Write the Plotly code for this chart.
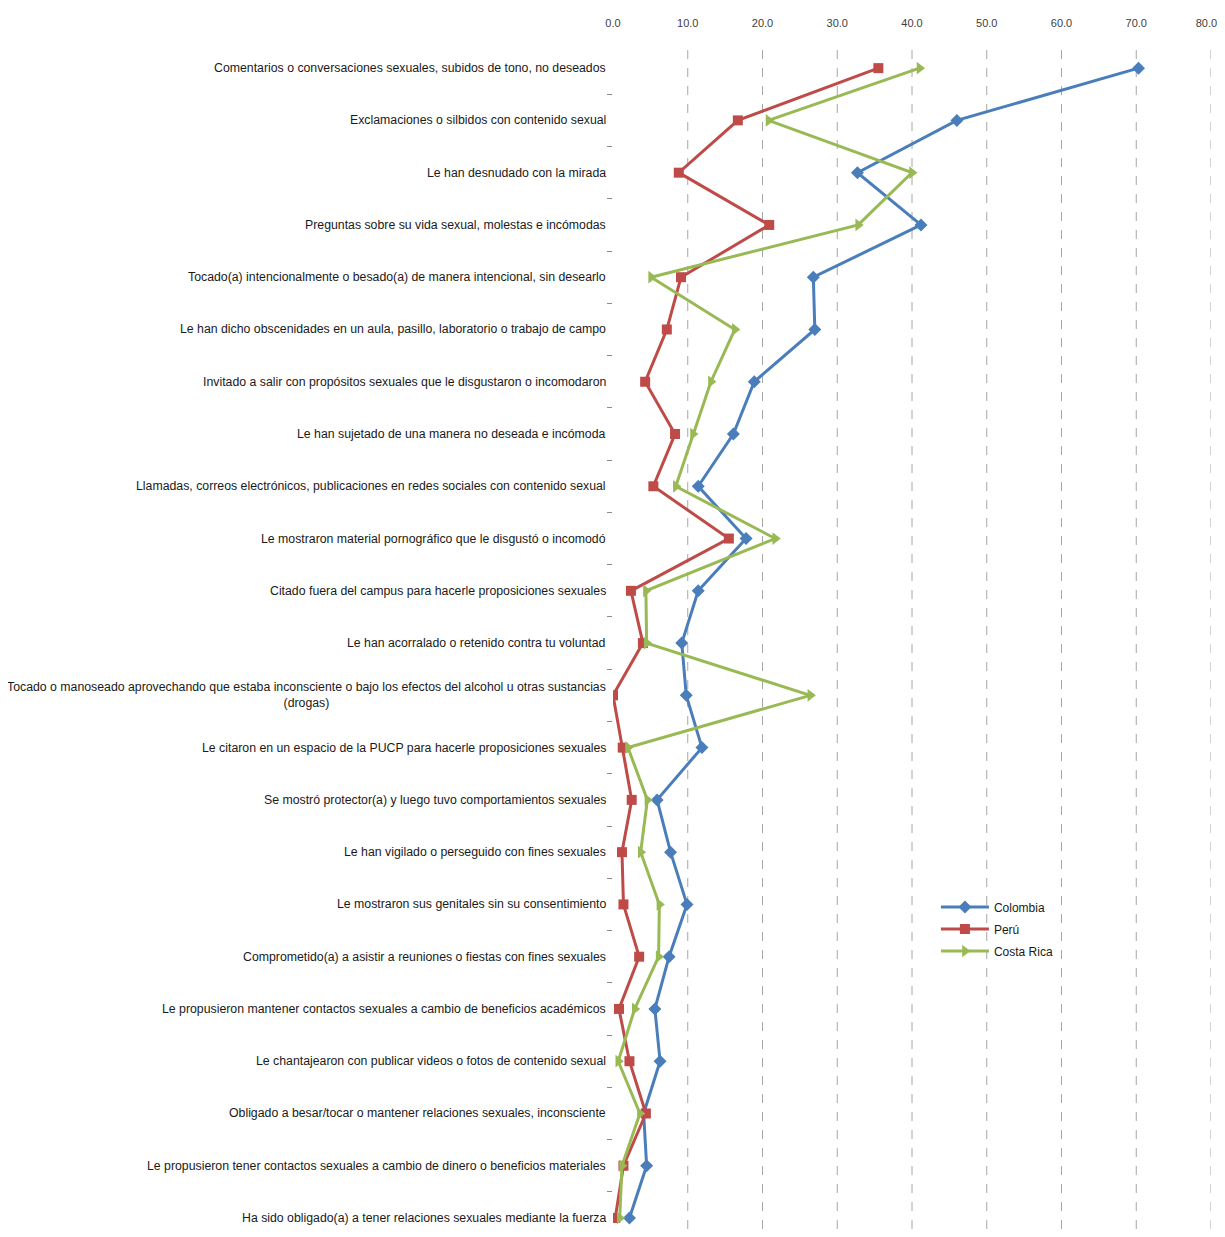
import plotly.graph_objects as go

categories = [
    "Comentarios o conversaciones sexuales, subidos de tono, no deseados",
    "Exclamaciones o silbidos con contenido sexual",
    "Le han desnudado con la mirada",
    "Preguntas sobre su vida sexual, molestas e incómodas",
    "Tocado(a) intencionalmente o besado(a) de manera intencional, sin desearlo",
    "Le han dicho obscenidades en un aula, pasillo, laboratorio o trabajo de campo",
    "Invitado a salir con propósitos sexuales que le disgustaron o incomodaron",
    "Le han sujetado de una manera no deseada e incómoda",
    "Llamadas, correos electrónicos, publicaciones en redes sociales con contenido sexual",
    "Le mostraron material pornográfico que le disgustó o incomodó",
    "Citado fuera del campus para hacerle proposiciones sexuales",
    "Le han acorralado o retenido contra tu voluntad",
    "Tocado o manoseado aprovechando que estaba inconsciente o bajo los efectos del alcohol u otras sustancias<br>(drogas)",
    "Le citaron en un espacio de la PUCP para hacerle proposiciones sexuales",
    "Se mostró protector(a) y luego tuvo comportamientos sexuales",
    "Le han vigilado o perseguido con fines sexuales",
    "Le mostraron sus genitales sin su consentimiento",
    "Comprometido(a) a asistir a reuniones o fiestas con fines sexuales",
    "Le propusieron mantener contactos sexuales a cambio de beneficios académicos",
    "Le chantajearon con publicar videos o fotos de contenido sexual",
    "Obligado a besar/tocar o mantener relaciones sexuales, inconsciente",
    "Le propusieron tener contactos sexuales a cambio de dinero o beneficios materiales",
    "Ha sido obligado(a) a tener relaciones sexuales mediante la fuerza",
]

colombia = [70.3, 46.0, 32.7, 41.2, 26.8, 27.0, 18.9, 16.1, 11.4, 17.8, 11.4, 9.2,
            9.8, 11.9, 5.9, 7.7, 9.9, 7.5, 5.6, 6.3, 4.1, 4.5, 2.2]
peru = [35.5, 16.7, 8.8, 20.9, 9.1, 7.2, 4.3, 8.3, 5.4, 15.5, 2.4, 4.0,
        0.0, 1.3, 2.5, 1.2, 1.4, 3.5, 0.8, 2.2, 4.4, 1.4, 0.3]
costa_rica = [41.0, 20.8, 40.0, 32.8, 5.1, 16.3, 13.1, 10.7, 8.4, 21.7, 4.4, 4.5,
              26.4, 2.0, 4.6, 3.7, 6.2, 6.1, 2.9, 0.7, 3.6, 1.2, 0.9]

x_ticks = [0, 10, 20, 30, 40, 50, 60, 70, 80]
x_tick_labels = ["0.0", "10.0", "20.0", "30.0", "40.0", "50.0", "60.0", "70.0", "80.0"]

series = [
    ("Colombia", colombia, "#4A7EBB", "diamond", 10),
    ("Perú", peru, "#BE4B48", "square", 10),
    ("Costa Rica", costa_rica, "#98B954", "triangle-right", 11),
]

idx = list(range(len(categories)))
FONT = "Liberation Sans, Arial, sans-serif"

fig = go.Figure()
for name, vals, color, sym, size in series:
    fig.add_trace(go.Scatter(
        x=vals, y=idx, name=name, mode="lines+markers", legendgroup=name,
        line=dict(color=color, width=3),
        marker=dict(symbol=sym, size=size, color=color),
    ))

for i, lab in enumerate(categories):
    fig.add_annotation(
        x=0, y=i, xref="x", yref="y", text=lab, showarrow=False,
        xanchor="right", yanchor="middle", align="center", xshift=-5,
        font=dict(family=FONT, size=12.3, color="#1a1a1a"),
    )

for v in x_ticks[1:]:
    fig.add_shape(type="line", xref="x", yref="paper", x0=v, x1=v, y0=0, y1=1,
                  line=dict(color="#A6A6A6", width=1, dash="dash"), layer="below")

# keep the last tick label inside the visible page
tick_text = x_tick_labels[:-1] + [x_tick_labels[-1] + "\u00a0" * 3]

fig.update_layout(
    width=1217, height=1221,
    margin=dict(l=605, r=14, t=34, b=0),
    paper_bgcolor="white", plot_bgcolor="white",
    font=dict(family=FONT, size=12, color="#333333"),
    showlegend=True,
    legend=dict(x=0.54, y=0.2835, xanchor="left", yanchor="top",
                bgcolor="rgba(0,0,0,0)", font=dict(size=12, color="#1a1a1a"),
                tracegroupgap=3, itemwidth=48),
    xaxis=dict(side="top", range=[0, 80], tickvals=x_ticks,
               ticktext=tick_text, ticklabeloverflow="allow",
               showgrid=False, zeroline=False, showline=False, ticks="",
               ticklabelstandoff=12,
               tickfont=dict(size=11, color="#404040")),
    yaxis=dict(range=[22.21, -0.5], tickmode="array", tickvals=[i + 0.5 for i in idx[:-1]],
               ticktext=["" for _ in idx[:-1]], showgrid=False, zeroline=False,
               showline=False, ticks="outside", ticklen=5, tickcolor="#8c8c8c"),
)

fig.write_html("out.html")
